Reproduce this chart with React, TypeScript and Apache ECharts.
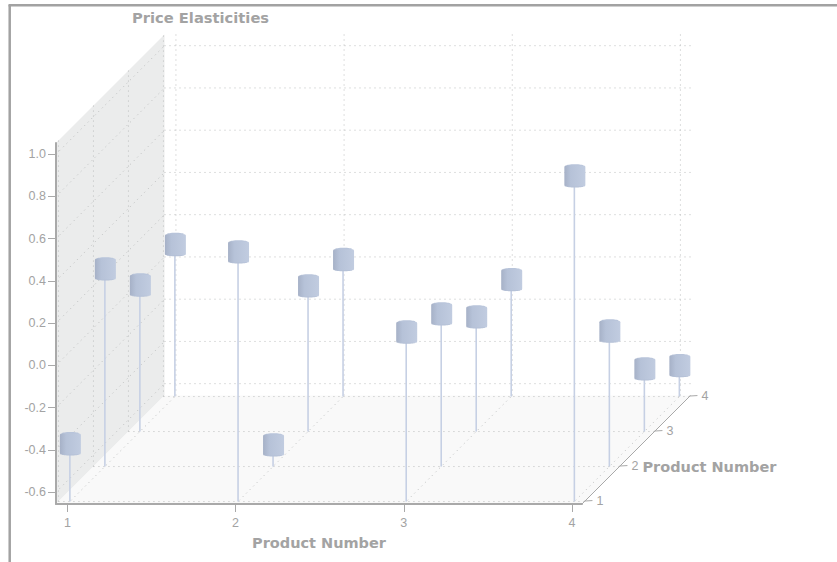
import React, { useEffect, useRef } from "react";
import * as echarts from "echarts";

// Product numbers along the front axis and the depth axis.
const productTicks = [1, 2, 3, 4];
const depthTicks = [1, 2, 3, 4];
const valueTicks = [-0.6, -0.4, -0.2, 0, 0.2, 0.4, 0.6, 0.8, 1];

// Elasticity per front-axis product, one list for each depth-axis product.
const elasticityDepth1 = [-0.383, 0.525, 0.146, 0.885];
const elasticityDepth2 = [0.279, -0.554, 0.066, -0.015];
const elasticityDepth3 = [0.037, 0.033, -0.114, -0.36];
const elasticityDepth4 = [0.063, -0.008, -0.103, -0.51];
const elasticityRows = [elasticityDepth1, elasticityDepth2, elasticityDepth3, elasticityDepth4];

const X_MIN = 0.932;
const X_MAX = 4.06;
const Y_MIN = -0.656;
const Y_MAX = 1.053;
const DEPTH_MIN = 0.93;
const DEPTH_MAX = 4.03;
const DEPTH_PX = 35; // oblique shift per depth unit, right and up

const AXIS_GREY = "#a9a9a9";
const TEXT_GREY = "#a3a3a3";
const DOT_GREY = "#bcbebe";
const LABEL_FONT = "Liberation Sans";
const TITLE_FONT = "DejaVu Sans";

const shift = (d: number) => (d - DEPTH_MIN) * DEPTH_PX;

// Project (product, value, depth) on to the page using the cartesian axes.
const project = (api: any, x: number, v: number, d: number): [number, number] => {
  const p = api.coord([x, v]);
  return [p[0] + shift(d), p[1] - shift(d)];
};

const dotted = (a: number[], b: number[]) => ({
  type: "line",
  silent: true,
  shape: { x1: a[0], y1: a[1], x2: b[0], y2: b[1] },
  style: { stroke: DOT_GREY, lineWidth: 1, lineDash: [1, 4], fill: "none" },
});

const poly = (points: number[][], fill: string) => ({
  type: "polygon",
  silent: true,
  shape: { points },
  style: { fill },
});

// Side wall, floor, dotted grid and depth axis.
const renderBox = (_: any, api: any) => {
  const P = (x: number, v: number, d: number) => project(api, x, v, d);
  const children: any[] = [
    poly([P(X_MIN, Y_MAX, DEPTH_MIN), P(X_MIN, Y_MAX, DEPTH_MAX), P(X_MIN, Y_MIN, DEPTH_MAX), P(X_MIN, Y_MIN, DEPTH_MIN)], "#ebecec"),
    poly([P(X_MIN, Y_MIN, DEPTH_MIN), P(X_MIN, Y_MIN, DEPTH_MAX), P(X_MAX, Y_MIN, DEPTH_MAX), P(X_MAX, Y_MIN, DEPTH_MIN)], "#f9f9f9"),
  ];
  valueTicks.forEach((v) => {
    children.push(dotted(P(X_MIN, v, DEPTH_MIN), P(X_MIN, v, DEPTH_MAX)));
    children.push(dotted(P(X_MIN, v, DEPTH_MAX), P(X_MAX, v, DEPTH_MAX)));
  });
  productTicks.forEach((x) => {
    children.push(dotted(P(x, Y_MIN, DEPTH_MIN), P(x, Y_MIN, DEPTH_MAX)));
    children.push(dotted(P(x, Y_MIN, DEPTH_MAX), P(x, Y_MAX, DEPTH_MAX)));
  });
  depthTicks.forEach((d) => {
    children.push(dotted(P(X_MIN, Y_MAX, d), P(X_MIN, Y_MIN, d)));
    children.push(dotted(P(X_MIN, Y_MIN, d), P(X_MAX, Y_MIN, d)));
  });
  const a = P(X_MAX, Y_MIN, DEPTH_MIN);
  const b = P(X_MAX, Y_MIN, DEPTH_MAX);
  children.push({
    type: "line",
    silent: true,
    shape: { x1: a[0], y1: a[1], x2: b[0], y2: b[1] },
    style: { stroke: AXIS_GREY, lineWidth: 1 },
  });
  depthTicks.forEach((d) => {
    const t = P(X_MAX, Y_MIN, d);
    children.push({
      type: "line",
      silent: true,
      shape: { x1: t[0], y1: t[1] - 0.5, x2: t[0] + 8, y2: t[1] - 1 },
      style: { stroke: AXIS_GREY, lineWidth: 1 },
    });
    children.push({
      type: "text",
      silent: true,
      style: {
        text: String(d),
        x: t[0] + 12,
        y: t[1] - 0.5,
        fill: TEXT_GREY,
        font: `12.5px ${LABEL_FONT}`,
        align: "left",
        verticalAlign: "middle",
      },
    });
  });
  children.push({
    type: "text",
    silent: true,
    style: {
      text: "Product Number",
      x: P(X_MAX, Y_MIN, 2)[0] + 23,
      y: P(X_MAX, Y_MIN, 2)[1],
      fill: TEXT_GREY,
      font: `bold 14.5px ${TITLE_FONT}`,
      align: "left",
      verticalAlign: "middle",
    },
  });
  return { type: "group", children };
};

const cylinderFill = new echarts.graphic.LinearGradient(0, 0, 1, 0, [
  { offset: 0, color: "#a6b1c7" },
  { offset: 0.3, color: "#b6c2d8" },
  { offset: 1, color: "#c1cce0" },
]);

// One drop line with its cylinder head.
const renderPoint = (_: any, api: any) => {
  const x = api.value(0);
  const v = api.value(1);
  const d = api.value(2);
  const top = project(api, x, v, d);
  const floor = project(api, x, Y_MIN, d);
  const w = 21;
  const h = 21;
  const cx = top[0] + 0.5;
  return {
    type: "group",
    children: [
      {
        type: "line",
        shape: { x1: top[0], y1: top[1], x2: floor[0], y2: floor[1] },
        style: { stroke: "#c6d0e4", lineWidth: 1.6 },
      },
      {
        type: "ellipse",
        shape: { cx, cy: top[1] - h / 2, rx: w / 2 - 2, ry: 1.3 },
        style: { fill: "#b8c4da" },
      },
      {
        type: "ellipse",
        shape: { cx, cy: top[1] + h / 2, rx: w / 2 - 2, ry: 1 },
        style: { fill: "#b4c0d6" },
      },
      {
        type: "rect",
        shape: { x: cx - w / 2, y: top[1] - h / 2, width: w, height: h, r: 1.5 },
        style: { fill: cylinderFill },
      },
    ],
  };
};

const pointData: number[][] = [];
for (let row = elasticityRows.length - 1; row >= 0; row--) {
  elasticityRows[row].forEach((value, i) => {
    pointData.push([productTicks[i], value, depthTicks[row]]);
  });
}

export default function App() {
  const ref = useRef<HTMLDivElement>(null);

  useEffect(() => {
    const chart = echarts.init(ref.current!, undefined, { renderer: "svg" });
    const frameStyle = { stroke: "#a2a2a2", lineWidth: 2.5 };
    chart.setOption({
      animation: false,
      backgroundColor: "#ffffff",
      title: {
        text: "Price Elasticities",
        left: 132,
        top: 10,
        padding: 0,
        textStyle: { color: TEXT_GREY, fontFamily: TITLE_FONT, fontWeight: "bold", fontSize: 14.7 },
      },
      grid: { left: 56, top: 143, width: 526, height: 361, containLabel: false },
      xAxis: {
        type: "value",
        min: X_MIN,
        max: X_MAX,
        z: 5,
        name: "Product Number",
        nameLocation: "middle",
        nameGap: 31,
        nameTextStyle: { color: TEXT_GREY, fontFamily: TITLE_FONT, fontWeight: "bold", fontSize: 14.5 },
        axisLine: { onZero: false, lineStyle: { color: AXIS_GREY, width: 2 } },
        axisTick: { show: true, length: 8, customValues: productTicks, lineStyle: { color: AXIS_GREY } },
        axisLabel: {
          customValues: productTicks,
          margin: 12,
          color: TEXT_GREY,
          fontFamily: LABEL_FONT,
          fontSize: 12.5,
          formatter: (v: number) => String(v),
        },
        splitLine: { show: false },
      },
      yAxis: {
        type: "value",
        min: Y_MIN,
        max: Y_MAX,
        z: 5,
        axisLine: { show: true, onZero: false, lineStyle: { color: AXIS_GREY, width: 2 } },
        axisTick: { show: true, length: 8, customValues: valueTicks, lineStyle: { color: AXIS_GREY } },
        axisLabel: {
          customValues: valueTicks,
          margin: 10,
          color: TEXT_GREY,
          fontFamily: LABEL_FONT,
          fontSize: 12.5,
          formatter: (v: number) => v.toFixed(1),
        },
        splitLine: { show: false },
      },
      graphic: [
        { type: "line", silent: true, shape: { x1: 8.5, y1: 5.2, x2: 837, y2: 5.2 }, style: frameStyle },
        { type: "line", silent: true, shape: { x1: 9.7, y1: 5, x2: 9.7, y2: 562 }, style: frameStyle },
      ],
      series: [
        {
          type: "custom",
          z: 1,
          silent: true,
          clip: false,
          data: [[X_MIN, Y_MIN, DEPTH_MIN]],
          encode: { x: 0, y: 1 },
          renderItem: renderBox,
        },
        {
          type: "custom",
          z: 3,
          silent: true,
          clip: false,
          data: pointData,
          encode: { x: 0, y: 1 },
          renderItem: renderPoint,
        },
      ],
    });
    return () => chart.dispose();
  }, []);

  return <div ref={ref} style={{ position: "fixed", left: 0, top: 0, width: 837, height: 562 }} />;
}
